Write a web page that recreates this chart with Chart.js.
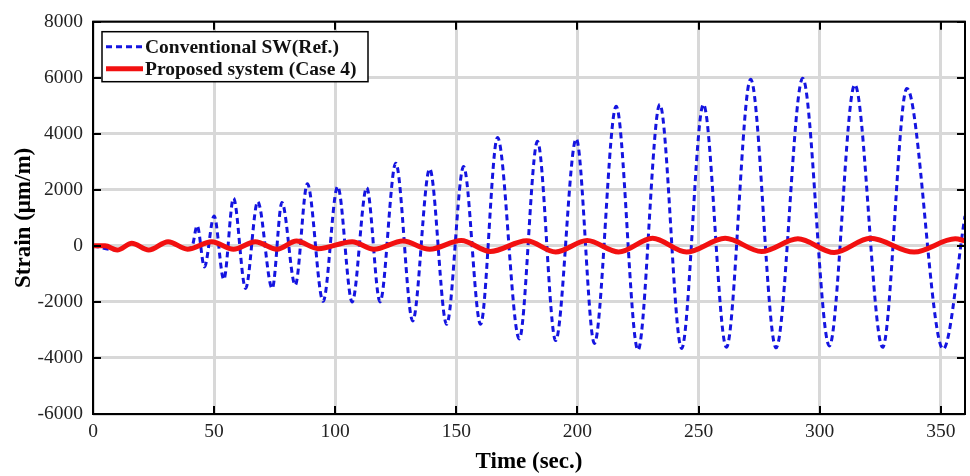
<!DOCTYPE html>
<html>
<head>
<meta charset="utf-8">
<title>Strain vs Time</title>
<script src="https://cdn.jsdelivr.net/npm/chart.js@4.4.1/dist/chart.umd.min.js"></script>
<style>
  html, body { margin: 0; padding: 0; background: #fff; }
  #wrap { width: 970px; height: 476px; position: relative; }
</style>
</head>
<body>
<div id="wrap"><canvas id="grafica"></canvas></div>
<script>
'use strict';

// Conventional SW (Ref.) — peaks / troughs
const TIME_REF = [
  0, 10, 16, 23, 31, 39, 41, 43, 46, 50, 54, 58, 63, 68, 74, 78, 83.5, 88.5,
  95, 101, 107, 113, 118.5, 125, 132, 139, 146, 153, 160, 167, 176, 183.5,
  191, 199.5, 207, 216, 225, 234, 243, 252, 261.5, 271.5, 282, 293, 304,
  314.5, 326, 336, 351, 360
];
const STRAIN_REF = [
  0, -150, 90, -150, 150, -110, 0, 720, -750, 1070, -1200, 1700, -1520, 1580, -1520, 1550, -1400, 2220,
  -1980, 2120, -2000, 2080, -2000, 2950, -2680, 2750, -2800, 2830, -2800, 3870, -3320, 3730,
  -3380, 3820, -3480, 4980, -3720, 5050, -3660, 5050, -3620, 5950, -3640, 5980, -3570,
  5750, -3620, 5620, -3680, 1070
];

// Proposed system (Case 4)
const TIME_PROP = [
  0, 5, 10, 16, 23, 31, 39, 49, 58, 67, 76, 84, 93, 107, 116, 128, 139, 152,
  164, 179, 191, 204, 217, 231, 245, 261, 276, 291, 306, 321, 339, 356, 360
];
const STRAIN_PROP = [
  0, 0, -150, 90, -150, 150, -120, 150, -120, 150, -120, 170, -100, 150, -120, 170, -120, 190,
  -200, 180, -220, 190, -220, 270, -220, 270, -200, 250, -240, 270, -220, 250, 180
];

const X_TICKS = [0, 50, 100, 150, 200, 250, 300, 350];
const Y_TICKS = [-6000, -4000, -2000, 0, 2000, 4000, 6000, 8000];

const LABEL_REF  = 'Conventional SW(Ref.)';
const LABEL_PROP = 'Proposed system (Case 4)';

const BLUE = '#1414e0';
const RED  = '#f21010';
const SERIF = "'Liberation Serif', 'Times New Roman', serif";

function toPoints(xs, ys) {
  return xs.map((t, i) => ({ x: t, y: ys[i] }));
}

// MATLAB-like box, inner ticks and legend drawn on top of the data
const marcoMatlab = {
  id: 'marcoMatlab',
  afterDatasetsDraw(chart) {
    const { ctx, chartArea: a, scales: { x, y } } = chart;
    ctx.save();

    // inner ticks
    ctx.strokeStyle = '#000';
    ctx.lineWidth = 2;
    ctx.beginPath();
    X_TICKS.forEach(v => {
      const px = Math.round(x.getPixelForValue(v));
      ctx.moveTo(px, a.bottom); ctx.lineTo(px, a.bottom - 8);
      ctx.moveTo(px, a.top);    ctx.lineTo(px, a.top + 8);
    });
    Y_TICKS.forEach(v => {
      const py = Math.round(y.getPixelForValue(v));
      ctx.moveTo(a.left, py);  ctx.lineTo(a.left + 8, py);
      ctx.moveTo(a.right, py); ctx.lineTo(a.right - 8, py);
    });
    ctx.stroke();

    // frame
    ctx.lineWidth = 2;
    ctx.strokeRect(a.left, a.top, a.right - a.left, a.bottom - a.top);

    // legend
    const lx = a.left + 9, ly = a.top + 10, lw = 266, lh = 50;
    ctx.fillStyle = '#fff';
    ctx.fillRect(lx, ly, lw, lh);
    ctx.lineWidth = 1.5;
    ctx.strokeRect(lx, ly, lw, lh);

    const ds = chart.data.datasets;
    const rows = [ly + 15, ly + 37];
    ds.forEach((d, i) => {
      ctx.beginPath();
      ctx.strokeStyle = d.borderColor;
      ctx.lineWidth = d.borderWidth;
      ctx.setLineDash(d.borderDash || []);
      ctx.moveTo(lx + 4, rows[i]);
      ctx.lineTo(lx + 41, rows[i]);
      ctx.stroke();
      ctx.setLineDash([]);
      ctx.fillStyle = '#111';
      ctx.font = 'bold 19.5px ' + SERIF;
      ctx.textBaseline = 'middle';
      ctx.textAlign = 'left';
      ctx.fillText(d.label, lx + 43, rows[i] + 1);
    });

    ctx.restore();
  }
};

const ctx = document.getElementById('grafica').getContext('2d');

new Chart(ctx, {
  type: 'line',
  data: {
    datasets: [
      {
        label: LABEL_REF,
        data: toPoints(TIME_REF, STRAIN_REF),
        borderColor: BLUE,
        borderWidth: 3,
        borderDash: [6, 4],
        pointRadius: 0,
        cubicInterpolationMode: 'monotone',
        fill: false,
        order: 2,
      },
      {
        label: LABEL_PROP,
        data: toPoints(TIME_PROP, STRAIN_PROP),
        borderColor: RED,
        borderWidth: 5,
        pointRadius: 0,
        cubicInterpolationMode: 'monotone',
        fill: false,
        order: 1,
      }
    ]
  },
  options: {
    responsive: true,
    maintainAspectRatio: false,
    animation: false,
    layout: { padding: { top: 15, right: 5, left: 0, bottom: 0 } },
    plugins: {
      legend: { display: false },
      tooltip: { enabled: false },
    },
    scales: {
      x: {
        type: 'linear',
        min: 0, max: 360,
        afterBuildTicks: s => { s.ticks = X_TICKS.map(v => ({ value: v })); },
        afterFit: s => { s.height = 62; },
        ticks: {
          color: '#222',
          padding: 6,
          maxRotation: 0,
          callback: v => String(v),
          font: { family: SERIF, size: 19.5 },
        },
        grid: { color: '#d8d8d8', lineWidth: 3, drawTicks: false },
        border: { display: false },
        title: {
          display: true, text: 'Time (sec.)', color: '#000',
          font: { family: SERIF, size: 23, weight: 'bold' },
          padding: { top: 0, bottom: 0 },
        },
      },
      y: {
        min: -6000, max: 8000,
        afterBuildTicks: s => { s.ticks = Y_TICKS.map(v => ({ value: v })); },
        afterFit: s => { s.width = 93; },
        ticks: {
          color: '#222',
          padding: 10,
          callback: v => String(v),
          font: { family: SERIF, size: 19.5 },
        },
        grid: { color: '#d8d8d8', lineWidth: 3, drawTicks: false },
        border: { display: false },
        title: {
          display: true, text: 'Strain (μm/m)', color: '#000',
          font: { family: SERIF, size: 23, weight: 'bold' },
          padding: { top: 10, bottom: 0 },
        },
      }
    }
  },
  plugins: [marcoMatlab]
});
</script>
</body>
</html>
